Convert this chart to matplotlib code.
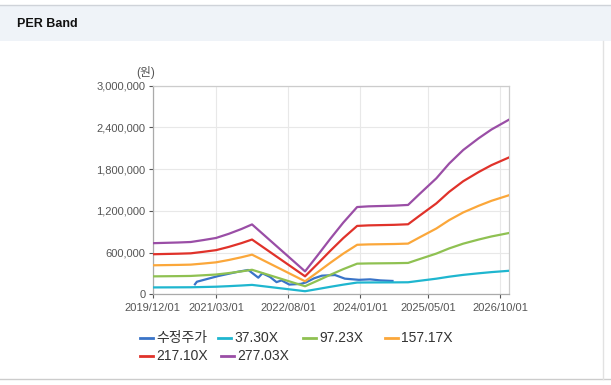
#!/usr/bin/env python3
import datetime as dt
import matplotlib
matplotlib.use('Agg')
import matplotlib.pyplot as plt
import matplotlib.dates as mdates
from matplotlib.lines import Line2D
from matplotlib.patches import Rectangle
from matplotlib.ticker import FuncFormatter

plt.rcParams['font.family'] = ['Liberation Sans', 'Noto Sans CJK KR', 'DejaVu Sans']

# EPS 기준 날짜와 값 (밴드 = EPS x 배수)
eps_dates = ['2019-12-01', '2020-03-01', '2020-06-01', '2020-09-01', '2020-12-01',
             '2021-03-01', '2021-06-01', '2021-09-01', '2021-11-15', '2022-12-01',
             '2023-03-01', '2023-06-01', '2023-09-01', '2023-12-10', '2024-03-01',
             '2024-06-01', '2024-09-01', '2024-12-10', '2025-03-01', '2025-07-01',
             '2025-10-01', '2026-01-10', '2026-05-01', '2026-08-01', '2026-12-01']
eps = [2653, 2671, 2689, 2715, 2816, 2924, 3140, 3393, 3628, 1191,
       2021, 2888, 3718, 4530, 4566, 4584, 4602, 4639, 5198, 6021,
       6786, 7490, 8100, 8555, 9050]

multiples = [37.30, 97.23, 157.17, 217.10, 277.03]
band_labels = ['37.30X', '97.23X', '157.17X', '217.10X', '277.03X']
band_colors = ['#1fb6cf', '#8fc152', '#fba73a', '#e0322a', '#9a4ea6']

# 수정주가
price_dates = ['2020-10-01', '2020-10-15', '2021-03-18', '2021-08-08', '2021-10-19',
               '2021-12-30', '2022-01-28', '2022-03-24', '2022-05-10', '2022-06-15',
               '2022-08-10', '2022-11-01', '2022-12-06', '2023-02-04', '2023-04-01',
               '2023-07-04', '2023-09-13', '2023-12-23', '2024-03-12', '2024-05-24',
               '2024-08-20']
price = [144000, 181000, 263000, 325000, 350000,
         239000, 302000, 250000, 175000, 200000,
         140000, 150000, 170000, 230000, 268000,
         277000, 225000, 208000, 215000, 200000,
         192000]
price_color = '#3a74c8'

xtick_dates = ['2019/12/01', '2021/03/01', '2022/08/01', '2024/01/01', '2025/05/01', '2026/10/01']


def to_date(s):
    return dt.datetime.strptime(s.replace('/', '-'), '%Y-%m-%d')


fig = plt.figure(figsize=(6.11, 3.85), dpi=100)

# 상단 헤더
fig.add_artist(Rectangle((0, 1 - 41 / 385), 1, 36 / 385, transform=fig.transFigure,
                         facecolor='#eff3f8', edgecolor='none', zorder=0))
fig.add_artist(Line2D([0, 1], [1 - 5 / 385] * 2, transform=fig.transFigure, color='#cfd3d9', lw=1))
fig.add_artist(Line2D([0, 1], [1 - 379 / 385] * 2, transform=fig.transFigure, color='#cccccc', lw=1))
fig.add_artist(Line2D([603 / 611] * 2, [1 - 379 / 385, 1 - 41 / 385], transform=fig.transFigure,
                      color='#e2e2e2', lw=1))
fig.text(17 / 611, 1 - 24 / 385, 'PER Band', fontsize=9, fontweight='bold', va='center', color='#111111')

ax = fig.add_axes([152.5 / 611, 1 - 294.3 / 385, (509 - 152.5) / 611, (294.3 - 85.7) / 385])

ed = [to_date(d) for d in eps_dates]
pd_ = [to_date(d) for d in price_dates]

ax.plot(pd_, price, color=price_color, lw=1.6, zorder=3)
for m, c in zip(multiples, band_colors):
    ax.plot(ed, [e * m for e in eps], color=c, lw=1.6, zorder=3)

ax.set_xlim(to_date('2019-12-01'), to_date('2026-12-05'))
ax.set_ylim(0, 3000000)
ax.set_yticks(range(0, 3000001, 600000))
ax.yaxis.set_major_formatter(FuncFormatter(lambda v, p: f'{int(v):,}'))
ax.set_xticks([to_date(d) for d in xtick_dates])
ax.set_xticklabels(xtick_dates)

ax.grid(True, color='#e8e8e8', lw=0.8, zorder=0)
ax.tick_params(labelsize=8, colors='#555555', length=3, width=0.8, pad=2)
ax.tick_params(axis='x', pad=3)
for s in ['top', 'right']:
    ax.spines[s].set_color('#cccccc')
for s in ['left', 'bottom']:
    ax.spines[s].set_color('#aaaaaa')
for s in ax.spines.values():
    s.set_linewidth(0.9)

fig.text(146 / 611, 1 - 72.5 / 385, '(원)', fontsize=8.5, color='#555555', ha='center', va='center')

# 범례
legend_items = [('수정주가', price_color, 140, 338), (band_labels[0], band_colors[0], 218, 338),
                (band_labels[1], band_colors[1], 303, 338), (band_labels[2], band_colors[2], 385, 338),
                (band_labels[3], band_colors[3], 140, 356), (band_labels[4], band_colors[4], 221, 356)]
for lab, c, x0, y0 in legend_items:
    fig.add_artist(Line2D([x0 / 611, (x0 + 13) / 611], [1 - y0 / 385] * 2,
                          transform=fig.transFigure, color=c, lw=2))
    fig.text((x0 + 16) / 611, 1 - y0 / 385, lab, fontsize=10, color='#333333', va='center')

fig.savefig('out.png', dpi=100)
